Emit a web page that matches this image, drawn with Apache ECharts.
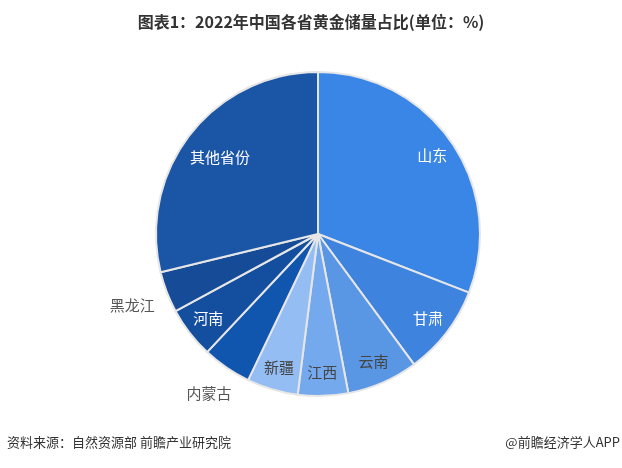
<!DOCTYPE html>
<html>
<head>
<meta charset="utf-8">
<script src="https://cdn.jsdelivr.net/npm/echarts@6/dist/echarts.min.js"></script>
<style>
html,body{margin:0;padding:0;background:#fff;}
#c{width:622px;height:468px;}
</style>
</head>
<body>
<div id="c"></div>
<script>
const categories = ['山东','甘肃','云南','江西','新疆','内蒙古','河南','黑龙江','其他省份'];
const values = [30.9, 9.0, 7.1, 5.0, 5.1, 4.9, 5.1, 4.1, 28.8];
const colors = ['#3a86e6','#3e84de','#5996e4','#75a9ee','#93bdf3','#1156ae','#144e9e','#164b98','#1b56a6'];
const labelColors = ['#ffffff','#ffffff','#444444','#444444','#444444',null,'#ffffff',null,'#ffffff'];
const outsideLabels = ['内蒙古','黑龙江'];

const font = '"Noto Sans CJK SC", "Noto Sans", sans-serif';
const center = [318, 234];

const mainData = categories.map((n,i)=>({name:n, value:values[i], itemStyle:{color:colors[i]}}));
const innerLabelData = categories.map((n,i)=>({
  name:n, value:values[i],
  label:{show: labelColors[i]!==null && n!=='其他省份', color: labelColors[i] || '#fff'}
}));
const otherLabelData = categories.map((n,i)=>({
  name:n, value:values[i],
  label:{show: n==='其他省份', color:'#fff'}
}));
const outerLabelData = categories.map((n,i)=>({
  name:n, value:values[i],
  label:{show: n==='黑龙江', color:'#555'}
}));
const outer2LabelData = categories.map((n,i)=>({
  name:n, value:values[i],
  label:{show: n==='内蒙古', color:'#555'}
}));

function labelSeries(r0, r1, data){
  return {
    type:'pie', center:center, radius:[r0,r1], startAngle:90, clockwise:true,
    data:data, avoidLabelOverlap:false, silent:true,
    itemStyle:{color:'rgba(0,0,0,0)', borderWidth:0},
    label:{position:'inside', fontFamily:font, fontSize:15, formatter:'{b}'},
    labelLine:{show:false}, emphasis:{disabled:true}
  };
}

const chart = echarts.init(document.getElementById('c'));
chart.setOption({
  animation:false,
  backgroundColor:'#fff',
  title:{
    text:'图表1：2022年中国各省黄金储量占比(单位：%)',
    left:'center', top:9,
    textStyle:{fontFamily:font, fontSize:16, fontWeight:'bold', color:'#333'}
  },
  graphic:[
    {type:'text', left:7, top:436, style:{text:'资料来源：自然资源部 前瞻产业研究院', font:'13px '+font, fill:'#333'}},
    {type:'text', right:2, top:436, style:{text:'@前瞻经济学人APP', font:'13px '+font, fill:'#333'}}
  ],
  series:[
    {
      type:'pie', center:center, radius:[0,162], startAngle:90, clockwise:true,
      data:mainData, label:{show:false}, labelLine:{show:false},
      itemStyle:{borderColor:'#e6e6e6', borderWidth:2},
      emphasis:{disabled:true}, silent:true
    },
    labelSeries(110, 161, innerLabelData),
    labelSeries(82, 161, otherLabelData),
    labelSeries(176, 216, outerLabelData),
    labelSeries(170, 210, outer2LabelData)
  ]
});
</script>
</body>
</html>
